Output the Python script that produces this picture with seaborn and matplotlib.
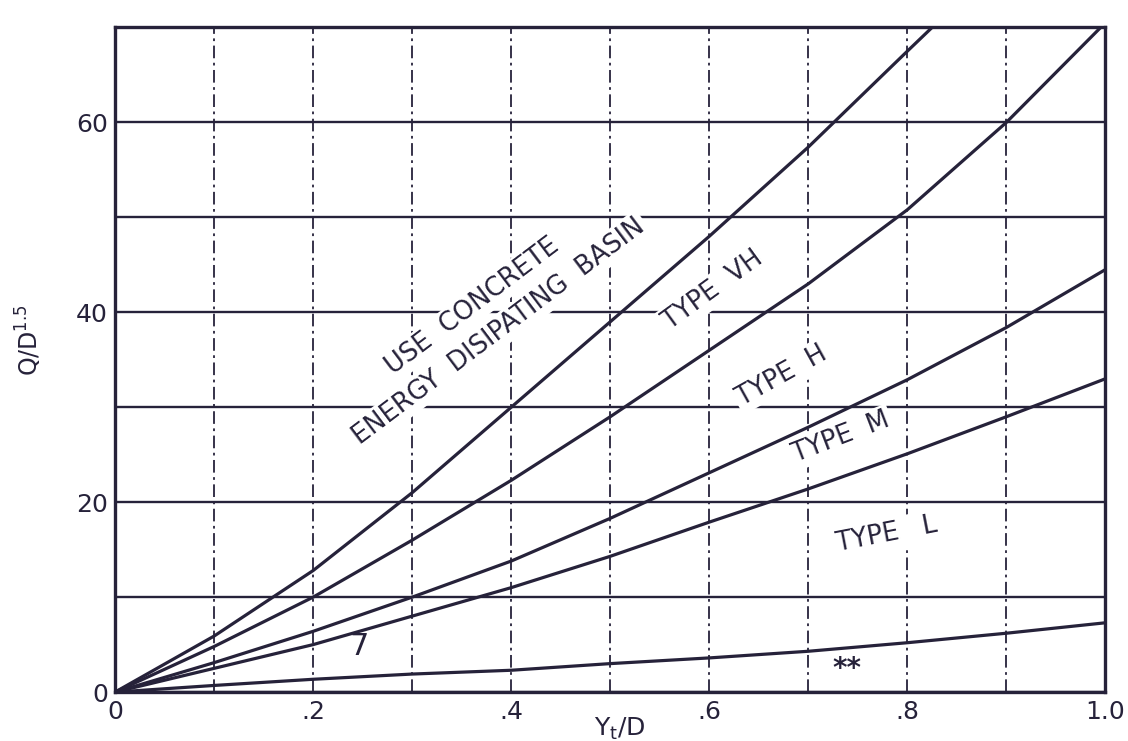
import pandas as pd
import seaborn as sns
import matplotlib
matplotlib.use('Agg')
import matplotlib.pyplot as plt

# values (Q/D^1.5 against Yt/D)
x_basin = [0.0, 0.1, 0.2, 0.3, 0.4, 0.5, 0.6, 0.7, 0.8, 0.83]
q_basin = [0.0, 5.9, 12.8, 21.0, 30.0, 39.0, 48.0, 57.4, 67.5, 70.5]

x_types = [0.0, 0.1, 0.2, 0.3, 0.4, 0.5, 0.6, 0.7, 0.8, 0.9, 1.0]
q_vh = [0.0, 4.8, 10.0, 16.0, 22.3, 29.0, 36.0, 43.0, 50.8, 60.0, 70.5]
q_h = [0.0, 3.1, 6.4, 10.0, 13.8, 18.3, 23.1, 27.9, 32.9, 38.4, 44.5]
q_m = [0.0, 2.5, 5.0, 8.0, 11.0, 14.3, 17.9, 21.4, 25.1, 29.0, 33.0]
q_l = [0.0, 0.7, 1.35, 1.9, 2.3, 3.0, 3.6, 4.3, 5.2, 6.2, 7.3]

x_ticks = [0, 0.2, 0.4, 0.6, 0.8, 1.0]
x_ticklabels = ['0', '.2', '.4', '.6', '.8', '1.0']
y_ticks = [0, 20, 40, 60]

rows = []
for name, xs, qs in [('basin', x_basin, q_basin), ('vh', x_types, q_vh),
                     ('h', x_types, q_h), ('m', x_types, q_m), ('l', x_types, q_l)]:
    for xv, qv in zip(xs, qs):
        rows.append({'curve': name, 'x': xv, 'q': qv})
df = pd.DataFrame(rows)

sns.set_style('white')
plt.rcParams['font.family'] = ['DejaVu Sans']
ink = '#26223a'

fig = plt.figure(figsize=(11.28, 7.41), dpi=100)
ax = fig.add_axes([0.102, 0.066, 0.878, 0.897])

sns.lineplot(data=df, x='x', y='q', units='curve', estimator=None,
             color=ink, linewidth=2.3, ax=ax, zorder=3)

ax.set_xlim(0, 1.0)
ax.set_ylim(0, 70)
ax.set_xticks(x_ticks)
ax.set_xticklabels(x_ticklabels)
ax.set_xticks([0.1, 0.3, 0.5, 0.7, 0.9], minor=True)
ax.set_yticks(y_ticks)
ax.set_yticks([10, 30, 50], minor=True)

ax.grid(axis='y', which='both', color=ink, linewidth=1.7, linestyle='-')
ax.grid(axis='x', which='both', color=ink, linewidth=1.3,
        linestyle=(0, (7, 2.5, 1.5, 2.5)))
ax.set_axisbelow(True)

for s in ax.spines.values():
    s.set_color(ink)
    s.set_linewidth(2.4)

ax.tick_params(axis='both', which='major', labelsize=18, colors=ink,
               length=3, width=1.5)
ax.tick_params(axis='both', which='minor', length=0)
ax.tick_params(axis='x', pad=3)
ax.tick_params(axis='y', pad=2)

ax.set_xlabel(r'Y$_\mathrm{t}$/D', fontsize=18, color=ink)
ax.xaxis.set_label_coords(0.51, -0.035)
ax.set_ylabel('Q/D$^{1.5}$', fontsize=17, color=ink)
ax.yaxis.set_label_coords(-0.072, 0.53)

box = dict(facecolor='white', edgecolor='none', pad=2)
txt = dict(color=ink, fontsize=18.5, ha='center', va='center',
           rotation_mode='anchor', zorder=2.5, bbox=box)
ax.text(0.361, 40.6, 'USE  CONCRETE', rotation=37, **txt)
ax.text(0.388, 38.0, 'ENERGY  DISIPATING  BASIN', rotation=37, **txt)
ax.text(0.604, 42.3, 'TYPE  VH', rotation=36, **txt)
ax.text(0.673, 33.3, 'TYPE  H', rotation=29, **txt)
ax.text(0.733, 26.8, 'TYPE  M', rotation=21, **txt)
ax.text(0.779, 16.6, 'TYPE   L', rotation=11, **txt)
ax.text(0.739, 2.4, '**', color=ink, fontsize=20, ha='center', va='center',
        fontweight='bold', zorder=2.5)
ax.text(0.246, 4.8, '7', color=ink, fontsize=22, ha='center', va='center',
        zorder=2.5)

fig.savefig('out.png', dpi=100, facecolor='white')
